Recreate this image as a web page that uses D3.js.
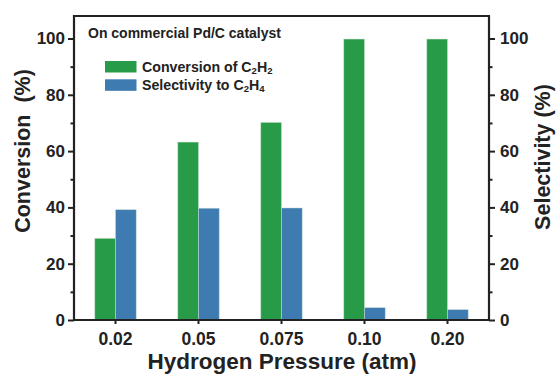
<!DOCTYPE html>
<html>
<head>
<meta charset="utf-8">
<script src="https://cdn.jsdelivr.net/npm/d3@7"></script>
<style>
  html, body { margin: 0; padding: 0; background: #fff; }
  svg { display: block; font-family: "Liberation Sans", Arial, Helvetica, sans-serif; font-weight: bold; }
</style>
</head>
<body>
<svg id="chart" width="558" height="374"></svg>
<script>
// Hydrogen partial pressure (atm) on the x axis
const pressures = ["0.02", "0.05", "0.075", "0.10", "0.20"];
// C2H2 conversion (%)
const conversion = [29.0, 63.2, 70.2, 99.8, 99.8];
// C2H4 selectivity (%)
const selectivity = [39.2, 39.7, 39.8, 4.4, 3.7];
// Tick values shared by both y axes
const majorTicks = [0, 20, 40, 60, 80, 100];
const minorTicks = [10, 30, 50, 70, 90];

const seriesKeys = ["conversion", "selectivity"];
const seriesColors = { conversion: "#289b48", selectivity: "#3d7bb1" };

const svg = d3.select("#chart");
const ink = "#222";

const plotL = 74, plotR = 489, plotT = 16, plotB = 320;

const x = d3.scaleBand().domain(pressures).range([plotL, plotR])
  .paddingInner(0.5).paddingOuter(0.25);
const xSub = d3.scaleBand().domain(seriesKeys).range([0, x.bandwidth()]);
const y = d3.scaleLinear().domain([0, 100]).range([plotB, plotB - 281.5]);

const rows = pressures.map((p, i) => ({ p, conversion: conversion[i], selectivity: selectivity[i] }));

// bars
const groups = svg.append("g").selectAll("g").data(rows).join("g")
  .attr("transform", d => `translate(${x(d.p)},0)`);
groups.selectAll("rect")
  .data(d => seriesKeys.map(k => ({ k, v: d[k] })))
  .join("rect")
  .attr("x", d => xSub(d.k))
  .attr("width", xSub.bandwidth())
  .attr("y", d => y(d.v))
  .attr("height", d => y(0) - y(d.v))
  .attr("fill", d => seriesColors[d.k])
  .attr("stroke", "#cfe6d6")
  .attr("stroke-opacity", 0.55)
  .attr("stroke-width", 0.8);

function styleAxis(g) {
  g.selectAll("path").remove();
  g.selectAll("line").attr("stroke", ink).attr("stroke-width", 2);
  g.selectAll("text").attr("fill", ink).style("font-family", "'Liberation Sans', Arial, sans-serif")
    .style("font-weight", "bold");
}

// left y axis
svg.append("g").attr("transform", `translate(${plotL},0)`)
  .call(d3.axisLeft(y).tickValues(majorTicks).tickSize(6).tickPadding(3).tickFormat(d3.format("d")))
  .call(styleAxis).selectAll("text").style("font-size", "17px");
svg.append("g").attr("transform", `translate(${plotL},0)`)
  .call(d3.axisLeft(y).tickValues(minorTicks).tickSize(3.5).tickFormat(""))
  .call(styleAxis);

// right y axis
svg.append("g").attr("transform", `translate(${plotR},0)`)
  .call(d3.axisRight(y).tickValues(majorTicks).tickSize(6).tickPadding(5).tickFormat(d3.format("d")))
  .call(styleAxis).selectAll("text").style("font-size", "17px");
svg.append("g").attr("transform", `translate(${plotR},0)`)
  .call(d3.axisRight(y).tickValues(minorTicks).tickSize(3.5).tickFormat(""))
  .call(styleAxis);

// x axis
svg.append("g").attr("transform", `translate(0,${plotB})`)
  .call(d3.axisBottom(x).tickSize(4).tickPadding(9))
  .call(styleAxis).selectAll("text").style("font-size", "17.5px");

// frame
svg.append("path")
  .attr("d", `M${plotL},${plotB}V${plotT}H${plotR}V${plotB}M${plotL - 1},${plotB}H${plotR + 1}`)
  .attr("fill", "none").attr("stroke", ink).attr("stroke-width", 2.2);

// axis titles
svg.append("text")
  .attr("transform", `translate(30,151) rotate(-90)`)
  .attr("text-anchor", "middle").attr("fill", ink).style("font-size", "21.5px")
  .text("Conversion\u00a0\u00a0(%)");
svg.append("text")
  .attr("transform", `translate(550,157) rotate(-90)`)
  .attr("text-anchor", "middle").attr("fill", ink).style("font-size", "21.5px")
  .text("Selectivity (%)");
svg.append("text")
  .attr("x", 282).attr("y", 368.5)
  .attr("text-anchor", "middle").attr("fill", ink).style("font-size", "22.5px")
  .text("Hydrogen Pressure (atm)");

// annotation
svg.append("text")
  .attr("x", 88).attr("y", 37.5).attr("fill", ink).style("font-size", "14px")
  .text("On commercial Pd/C catalyst");

// legend
const legendItems = [
  { k: "conversion", parts: [["Conversion of C", false], ["2", true], ["H", false], ["2", true]] },
  { k: "selectivity", parts: [["Selectivity to C", false], ["2", true], ["H", false], ["4", true]] }
];
const legend = svg.append("g");
legendItems.forEach((item, i) => {
  const yy = 61 + i * 18.3;
  legend.append("rect").attr("x", 105).attr("y", yy).attr("width", 31.5).attr("height", 11.5)
    .attr("fill", seriesColors[item.k]);
  const t = legend.append("text").attr("x", 142).attr("y", yy + 11)
    .attr("fill", ink).style("font-size", "14.2px");
  item.parts.forEach(([s, sub], j) => {
    const ts = t.append("tspan").text(s);
    if (sub) ts.style("font-size", "9.5px").attr("dy", 2);
    else if (j > 0) ts.attr("dy", -2);
  });
});
</script>
</body>
</html>
